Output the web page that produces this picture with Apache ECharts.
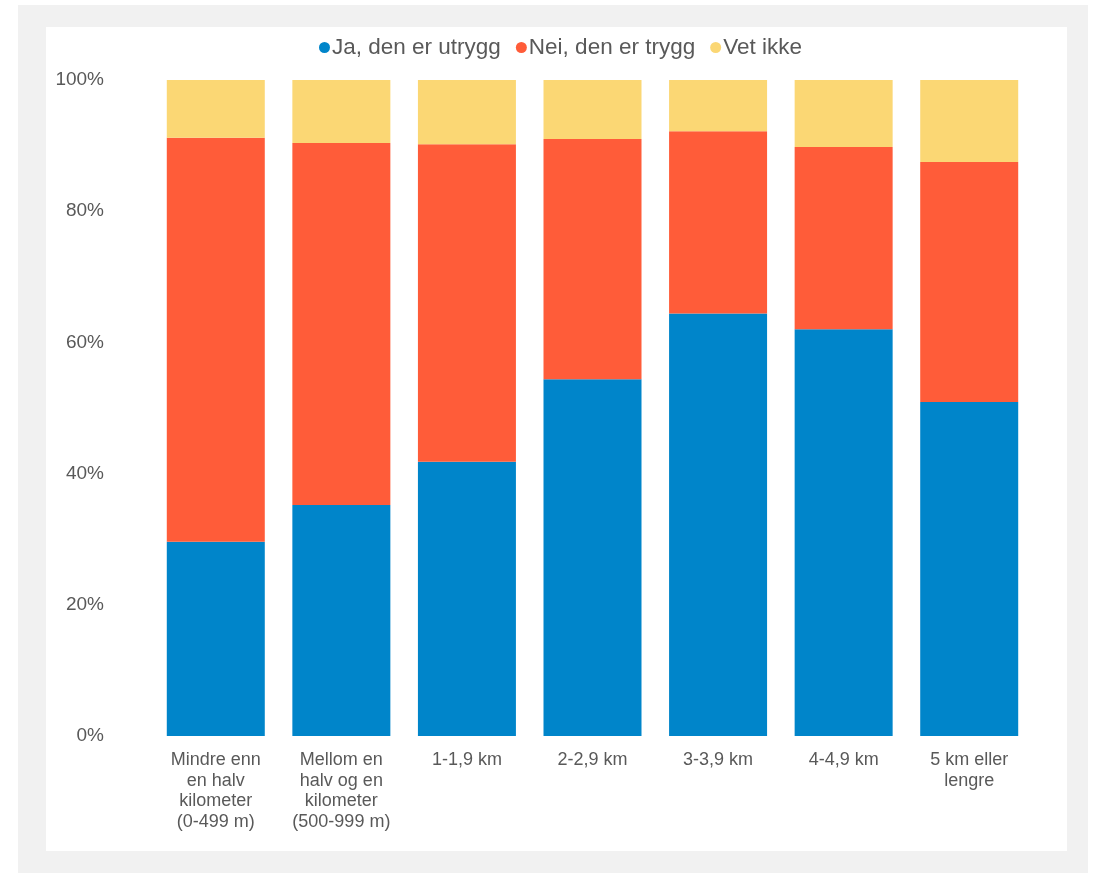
<!DOCTYPE html>
<html><head><meta charset="utf-8">
<script src="https://cdn.jsdelivr.net/npm/echarts@6/dist/echarts.min.js"></script>
<style>
html,body{margin:0;padding:0;background:#fff;width:1097px;height:873px;overflow:hidden;}
#frame{position:absolute;left:18px;top:5px;width:1070px;height:868px;background:#f1f1f1;}
#panel{position:absolute;left:46px;top:27px;width:1021px;height:824px;background:#fff;}
#chart{position:absolute;left:0;top:0;width:1097px;height:873px;}
</style></head>
<body>
<div id="frame"></div><div id="panel"></div>
<div id="chart"></div>
<script>
const categories = ['Mindre enn\nen halv\nkilometer\n(0-499 m)','Mellom en\nhalv og en\nkilometer\n(500-999 m)','1-1,9 km','2-2,9 km','3-3,9 km','4-4,9 km','5 km eller\nlengre'];
const seriesNames = ['Ja, den er utrygg','Nei, den er trygg','Vet ikke'];
const jaValues = [29.6, 35.2, 41.8, 54.4, 64.4, 62.0, 50.9];
const neiValues = [61.6, 55.2, 48.4, 36.6, 27.8, 27.8, 36.6];
const vetValues = [8.8, 9.6, 9.8, 9.0, 7.8, 10.2, 12.5];
const yTicks = [0, 20, 40, 60, 80, 100];
const colors = ['#0085ca','#ff5c39','#fbd774'];

const chart = echarts.init(document.getElementById('chart'), null, {renderer:'canvas'});
const font = 'Liberation Sans, Arial, sans-serif';
chart.setOption({
  backgroundColor: 'transparent',
  animation: false,
  color: colors,
  legend: {
    left: 314, top: 31,
    icon: 'circle', itemWidth: 11, itemHeight: 11, itemGap: 15,
    textStyle: {fontFamily: font, fontSize: 22.5, color: '#595959', padding:[0,0,0,-3]},
    data: seriesNames
  },
  grid: {left: 153, right: 65, top: 80, bottom: 137, containLabel: false},
  xAxis: {
    type: 'category', data: categories,
    axisLine: {show: false}, axisTick: {show: false},
    axisLabel: {fontFamily: font, fontSize: 18, color: '#595959', margin: 14, lineHeight: 20.5, interval: 0}
  },
  yAxis: {
    type: 'value', min: 0, max: 100, interval: 20,
    splitLine: {show: false}, axisLine: {show: false}, axisTick: {show: false},
    axisLabel: {fontFamily: font, fontSize: 19, color: '#595959', margin: 49,
      formatter: v => yTicks.includes(v) ? v + '%' : ''}
  },
  series: [
    {name: seriesNames[0], type: 'bar', stack: 'total', barWidth: 98, data: jaValues},
    {name: seriesNames[1], type: 'bar', stack: 'total', barWidth: 98, data: neiValues},
    {name: seriesNames[2], type: 'bar', stack: 'total', barWidth: 98, data: vetValues}
  ]
});
</script>
</body></html>
